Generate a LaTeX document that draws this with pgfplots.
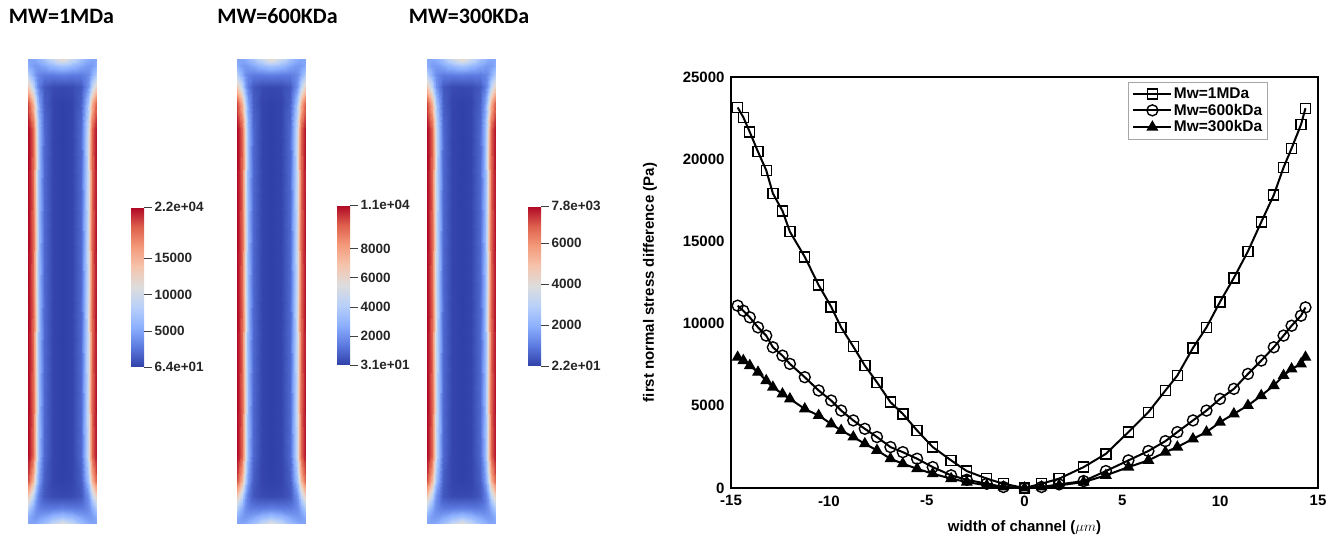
\documentclass[border=0pt]{standalone}
\usepackage{pgfplots}
\usepackage{pgfplotstable}
\pgfplotsset{compat=1.18}
\usepackage{fontspec}
\setmainfont{Liberation Sans}
\newfontfamily\carlito{Carlito}

\newcommand\titlefont{\carlito\fontsize{22}{24}\selectfont\bfseries}
\newcommand\chartfont{\fontsize{15}{17}\selectfont\bfseries}
\newcommand\legfont{\fontsize{15.5}{17}\selectfont\bfseries}
\newcommand\cbfont{\fontsize{13.5}{15}\selectfont\bfseries}

\pgfplotsset{
  colormap={coolwarm}{rgb255=(48,64,168) rgb255=(92,122,224) rgb255=(141,176,254)
    rgb255=(184,208,249) rgb255=(221,221,221) rgb255=(245,196,173)
    rgb255=(244,154,123) rgb255=(222,96,77) rgb255=(175,6,36)},
  colorbar shift/.style={},
  field/.style={scale only axis, width=69pt, height=465pt, view={0}{90}, hide axis,
    xmin=-15, xmax=15, ymin=0, ymax=200, colormap name=coolwarm, colorbar,
    colorbar style={scale only axis, width=13pt, height=160pt,
      at={(parent axis.south east)}, anchor=south west, scaled y ticks=false,
      axis line style={draw=none}, ytick pos=right, tick align=outside,
      major tick length=8pt, ytick style={draw=black!75, line width=0.9pt},
      yticklabel style={font=\cbfont, text=black!85, xshift=-1pt}}},
}

% field values (Pa), quarter of each channel: x across width (um), y along length
\pgfplotstableread[row sep=\\]{x y v\\
0 0 12000\\ 4 0 9500\\ 8 0 7000\\ 10 0 6000\\ 11 0 5500\\ 12 0 5200\\ 13 0 5000\\ 14 0 5000\\ 15 0 5000\\
0 3 7000\\ 4 3 6200\\ 8 3 5000\\ 10 3 4500\\ 11 3 4300\\ 12 3 4300\\ 13 3 4500\\ 14 3 5000\\ 15 3 5500\\
0 7 3000\\ 4 7 2800\\ 8 7 2800\\ 10 7 3200\\ 11 7 3600\\ 12 7 4300\\ 13 7 5500\\ 14 7 7000\\ 15 7 8500\\
0 12 500\\ 4 12 600\\ 8 12 1200\\ 10 12 2800\\ 11 12 4000\\ 12 12 6000\\ 13 12 9000\\ 14 12 11500\\ 15 12 13500\\
0 19 100\\ 4 19 300\\ 8 19 1500\\ 10 19 4500\\ 11 19 7000\\ 12 19 11000\\ 13 19 15000\\ 14 19 18000\\ 15 19 20000\\
0 30 64\\ 4 30 300\\ 8 30 2000\\ 10 30 6000\\ 11 30 9500\\ 12 30 15000\\ 13 30 19000\\ 14 30 21000\\ 15 30 22000\\
0 100 64\\ 4 100 300\\ 8 100 2000\\ 10 100 6000\\ 11 100 9500\\ 12 100 15000\\ 13 100 19000\\ 14 100 21000\\ 15 100 22000\\
}\fieldA
\pgfplotstableread[row sep=\\]{x y v\\
0 0 6000\\ 4 0 4750\\ 8 0 3500\\ 10 0 3000\\ 11 0 2750\\ 12 0 2600\\ 13 0 2500\\ 14 0 2500\\ 15 0 2500\\
0 3 3500\\ 4 3 3100\\ 8 3 2500\\ 10 3 2250\\ 11 3 2150\\ 12 3 2150\\ 13 3 2250\\ 14 3 2500\\ 15 3 2750\\
0 7 1500\\ 4 7 1400\\ 8 7 1400\\ 10 7 1600\\ 11 7 1800\\ 12 7 2150\\ 13 7 2750\\ 14 7 3500\\ 15 7 4250\\
0 12 250\\ 4 12 300\\ 8 12 600\\ 10 12 1400\\ 11 12 2000\\ 12 12 3000\\ 13 12 4500\\ 14 12 5750\\ 15 12 6750\\
0 19 50\\ 4 19 150\\ 8 19 750\\ 10 19 2250\\ 11 19 3500\\ 12 19 5500\\ 13 19 7500\\ 14 19 9000\\ 15 19 10000\\
0 30 31\\ 4 30 150\\ 8 30 1000\\ 10 30 3000\\ 11 30 4750\\ 12 30 7500\\ 13 30 9500\\ 14 30 10500\\ 15 30 11000\\
0 100 31\\ 4 100 150\\ 8 100 1000\\ 10 100 3000\\ 11 100 4750\\ 12 100 7500\\ 13 100 9500\\ 14 100 10500\\ 15 100 11000\\
}\fieldB
\pgfplotstableread[row sep=\\]{x y v\\
0 0 4300\\ 4 0 3400\\ 8 0 2500\\ 10 0 2150\\ 11 0 1950\\ 12 0 1850\\ 13 0 1800\\ 14 0 1800\\ 15 0 1800\\
0 3 2500\\ 4 3 2200\\ 8 3 1800\\ 10 3 1600\\ 11 3 1550\\ 12 3 1550\\ 13 3 1600\\ 14 3 1800\\ 15 3 1950\\
0 7 1050\\ 4 7 1000\\ 8 7 1000\\ 10 7 1150\\ 11 7 1300\\ 12 7 1550\\ 13 7 1950\\ 14 7 2500\\ 15 7 3000\\
0 12 180\\ 4 12 210\\ 8 12 430\\ 10 12 1000\\ 11 12 1420\\ 12 12 2130\\ 13 12 3200\\ 14 12 4080\\ 15 12 4800\\
0 19 35\\ 4 19 110\\ 8 19 530\\ 10 19 1600\\ 11 19 2490\\ 12 19 3900\\ 13 19 5330\\ 14 19 6400\\ 15 19 7100\\
0 30 22\\ 4 30 110\\ 8 30 710\\ 10 30 2130\\ 11 30 3370\\ 12 30 5330\\ 13 30 6750\\ 14 30 7450\\ 15 30 7800\\
0 100 22\\ 4 100 110\\ 8 100 710\\ 10 100 2130\\ 11 100 3370\\ 12 100 5330\\ 13 100 6750\\ 14 100 7450\\ 15 100 7800\\
}\fieldC

% the quarter table mirrored into the four corners of a channel
\newcommand{\quads}[1]{%
  \addplot3[surf, shader=interp, mesh/cols=9] table[x=x, y=y, z=v] {#1};
  \addplot3[surf, shader=interp, mesh/cols=9] table[x expr=-\thisrow{x}, y=y, z=v] {#1};
  \addplot3[surf, shader=interp, mesh/cols=9] table[x=x, y expr=200-\thisrow{y}, z=v] {#1};
  \addplot3[surf, shader=interp, mesh/cols=9] table[x expr=-\thisrow{x}, y expr=200-\thisrow{y}, z=v] {#1};
}

\begin{document}
\begin{tikzpicture}[x=1pt, y=1pt]
\path[use as bounding box] (0,0) rectangle (1342,546);

\node[font=\titlefont] at (61.5,530) {MW=1MDa};
\node[font=\titlefont] at (277.5,530) {MW=600KDa};
\node[font=\titlefont] at (469,530) {MW=300KDa};

\begin{axis}[field, at={(28pt,22pt)}, anchor=south west,
  point meta min=64, point meta max=22000,
  colorbar style={xshift=34pt, yshift=157pt,
    ytick={64,5000,10000,15000,22000},
    yticklabels={6.4e+01,5000,10000,15000,2.2e+04}}]
\quads{\fieldA}
\end{axis}

\begin{axis}[field, at={(237pt,22pt)}, anchor=south west,
  point meta min=31, point meta max=11000,
  colorbar style={xshift=31pt, yshift=159pt,
    ytick={31,2000,4000,6000,8000,11000},
    yticklabels={3.1e+01,2000,4000,6000,8000,1.1e+04}}]
\quads{\fieldB}
\end{axis}

\begin{axis}[field, at={(427pt,22pt)}, anchor=south west,
  point meta min=22, point meta max=7800,
  colorbar style={xshift=32pt, yshift=158pt,
    ytick={22,2000,4000,6000,7800},
    yticklabels={2.2e+01,2000,4000,6000,7.8e+03}}]
\quads{\fieldC}
\end{axis}

% first normal stress difference across the channel
\begin{axis}[at={(731pt,58pt)}, anchor=south west, scale only axis,
  width=587pt, height=411pt,
  xmin=-15, xmax=15, ymin=0, ymax=25000,
  xtick={-15,-10,-5,0,5,10,15}, xticklabels={-15,-10,-5,0,5,10,15},
  ytick={0,5000,10000,15000,20000,25000}, scaled y ticks=false,
  yticklabels={0,5000,10000,15000,20000,25000},
  major tick length=0pt, axis line style={line width=2pt},
  tick label style={font=\chartfont},
  xticklabel style={yshift=-4pt}, yticklabel style={xshift=-3pt},
  label style={font=\chartfont},
  xlabel={width of channel ($\mu m$)},
  ylabel={first normal stress difference (Pa)},
  xlabel style={at={(axis description cs:0.5,-0.0973)}, anchor=center},
  ylabel style={at={(axis description cs:-0.138,0.5)}, anchor=center},
  legend cell align=left,
  legend style={at={(0.915,0.988)}, anchor=north east, draw=black!35,
    line width=0.8pt, font=\legfont, inner xsep=4pt, inner ysep=4pt,
    row sep=1pt, nodes={inner sep=1.5pt}},
  legend image code/.code={\draw[mark repeat=2, mark phase=2, #1]
    plot coordinates {(0pt,0pt) (19pt,0pt) (38pt,0pt)};},
  every axis plot/.append style={black, line width=2pt,
    mark options={solid, line width=1.4pt}},
]
\addplot[mark=square, mark size=5pt] coordinates {
(-14.66,23150) (-14.37,22550) (-14.04,21650) (-13.62,20450) (-13.20,19330)
(-12.86,17920) (-12.37,16860) (-11.99,15590) (-11.23,14060) (-10.52,12340)
(-9.88,11020) (-9.37,9770) (-8.75,8600) (-8.16,7445) (-7.54,6430)
(-6.85,5220) (-6.22,4510) (-5.49,3500) (-4.69,2490) (-3.75,1680)
(-2.95,1030) (-1.93,570) (-1.08,260) (0,0) (0.87,260)
(1.77,570) (3.02,1270) (4.16,2080) (5.31,3400) (6.33,4610)
(7.20,5930) (7.81,6840) (8.61,8520) (9.30,9770) (9.99,11320)
(10.70,12780) (11.42,14400) (12.10,16180) (12.74,17820) (13.24,19500)
(13.65,20660) (14.13,22100) (14.36,23100)
};
\addlegendentry{Mw=1MDa}
\addplot[mark=o, mark size=5.5pt] coordinates {
(-14.66,11090) (-14.37,10780) (-14.04,10380) (-13.62,9770) (-13.20,9270)
(-12.86,8560) (-12.37,8050) (-11.99,7550) (-11.23,6740) (-10.52,5930)
(-9.88,5320) (-9.37,4710) (-8.75,4110) (-8.16,3600) (-7.54,3100)
(-6.85,2490) (-6.22,2180) (-5.49,1780) (-4.69,1270) (-3.75,770)
(-2.95,500) (-1.93,260) (-1.08,60) (0,0) (0.87,60)
(1.77,220) (3.02,420) (4.16,1030) (5.31,1680) (6.33,2250)
(7.20,2850) (7.81,3400) (8.61,4110) (9.30,4710) (9.99,5420)
(10.70,6030) (11.42,6940) (12.10,7750) (12.74,8560) (13.24,9270)
(13.65,9870) (14.13,10480) (14.36,10985)
};
\addlegendentry{Mw=600kDa}
\addplot[mark=triangle*, mark size=5.5pt] coordinates {
(-14.66,7950) (-14.37,7750) (-14.04,7445) (-13.62,7040) (-13.20,6530)
(-12.86,6130) (-12.37,5720) (-11.99,5420) (-11.23,4810) (-10.52,4410)
(-9.88,3900) (-9.37,3500) (-8.75,3100) (-8.16,2690) (-7.54,2290)
(-6.85,1780) (-6.22,1480) (-5.49,1170) (-4.69,870) (-3.75,570)
(-2.95,360) (-1.93,160) (-1.08,60) (0,0) (0.87,60)
(1.77,160) (3.02,360) (4.16,770) (5.31,1270) (6.33,1680)
(7.20,2180) (7.81,2490) (8.61,2990) (9.30,3400) (9.99,4000)
(10.70,4510) (11.42,5020) (12.10,5620) (12.74,6230) (13.24,6840)
(13.65,7240) (14.13,7550) (14.36,7950)
};
\addlegendentry{Mw=300kDa}
\end{axis}
\end{tikzpicture}
\end{document}
